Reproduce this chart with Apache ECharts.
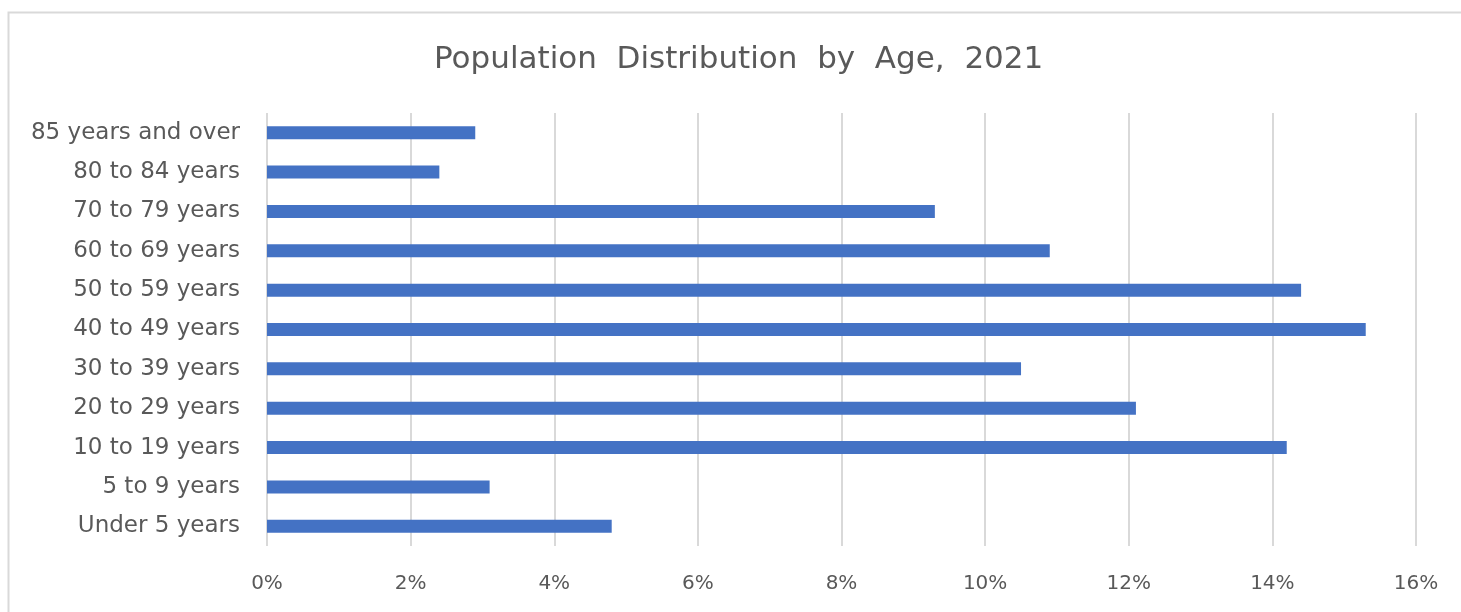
<!DOCTYPE html>
<html>
<head>
<meta charset="utf-8">
<script src="https://cdn.jsdelivr.net/npm/echarts@6/dist/echarts.min.js"></script>
<style>html,body{margin:0;padding:0;background:#fff;}#c{width:1461px;height:612px;}</style>
</head>
<body>
<div id="c"></div>
<script>
const categories = ["Under 5 years","5 to 9 years","10 to 19 years","20 to 29 years","30 to 39 years","40 to 49 years","50 to 59 years","60 to 69 years","70 to 79 years","80 to 84 years","85 years and over"];
const values = [4.8, 3.1, 14.2, 12.1, 10.5, 15.3, 14.4, 10.9, 9.3, 2.4, 2.9];
const titleText = "Population  Distribution  by  Age,  2021";

const FONT = '"DejaVu Sans", sans-serif';
const chart = echarts.init(document.getElementById('c'));
chart.setOption({
  animation: false,
  backgroundColor: '#fff',
  textStyle: { fontFamily: FONT },
  graphic: [{
    type: 'rect', left: 6, top: 10, silent: true,
    shape: { width: 1500, height: 700 },
    style: { fill: 'none', stroke: '#d9d9d9', lineWidth: 2 }
  }],
  title: {
    text: titleText, left: 434, top: 44, padding: 0,
    textStyle: { fontSize: 31, fontWeight: 'normal', color: '#595959', fontFamily: FONT }
  },
  grid: { left: 267, right: 45, top: 113, bottom: 66, containLabel: false },
  xAxis: {
    type: 'value', min: 0, max: 16, interval: 2,
    axisLine: { show: false }, axisTick: { show: false },
    splitLine: { lineStyle: { color: '#d9d9d9', width: 2 } },
    axisLabel: { formatter: v => v + '%', color: '#595959', fontSize: 20, margin: 28 }
  },
  yAxis: {
    type: 'category', data: categories,
    axisLine: { show: false }, axisTick: { show: false },
    axisLabel: { color: '#595959', fontSize: 23, margin: 27 }
  },
  series: [{
    type: 'bar', data: values, barWidth: 13,
    itemStyle: { color: '#4472C4' }
  }]
});
</script>
</body>
</html>
